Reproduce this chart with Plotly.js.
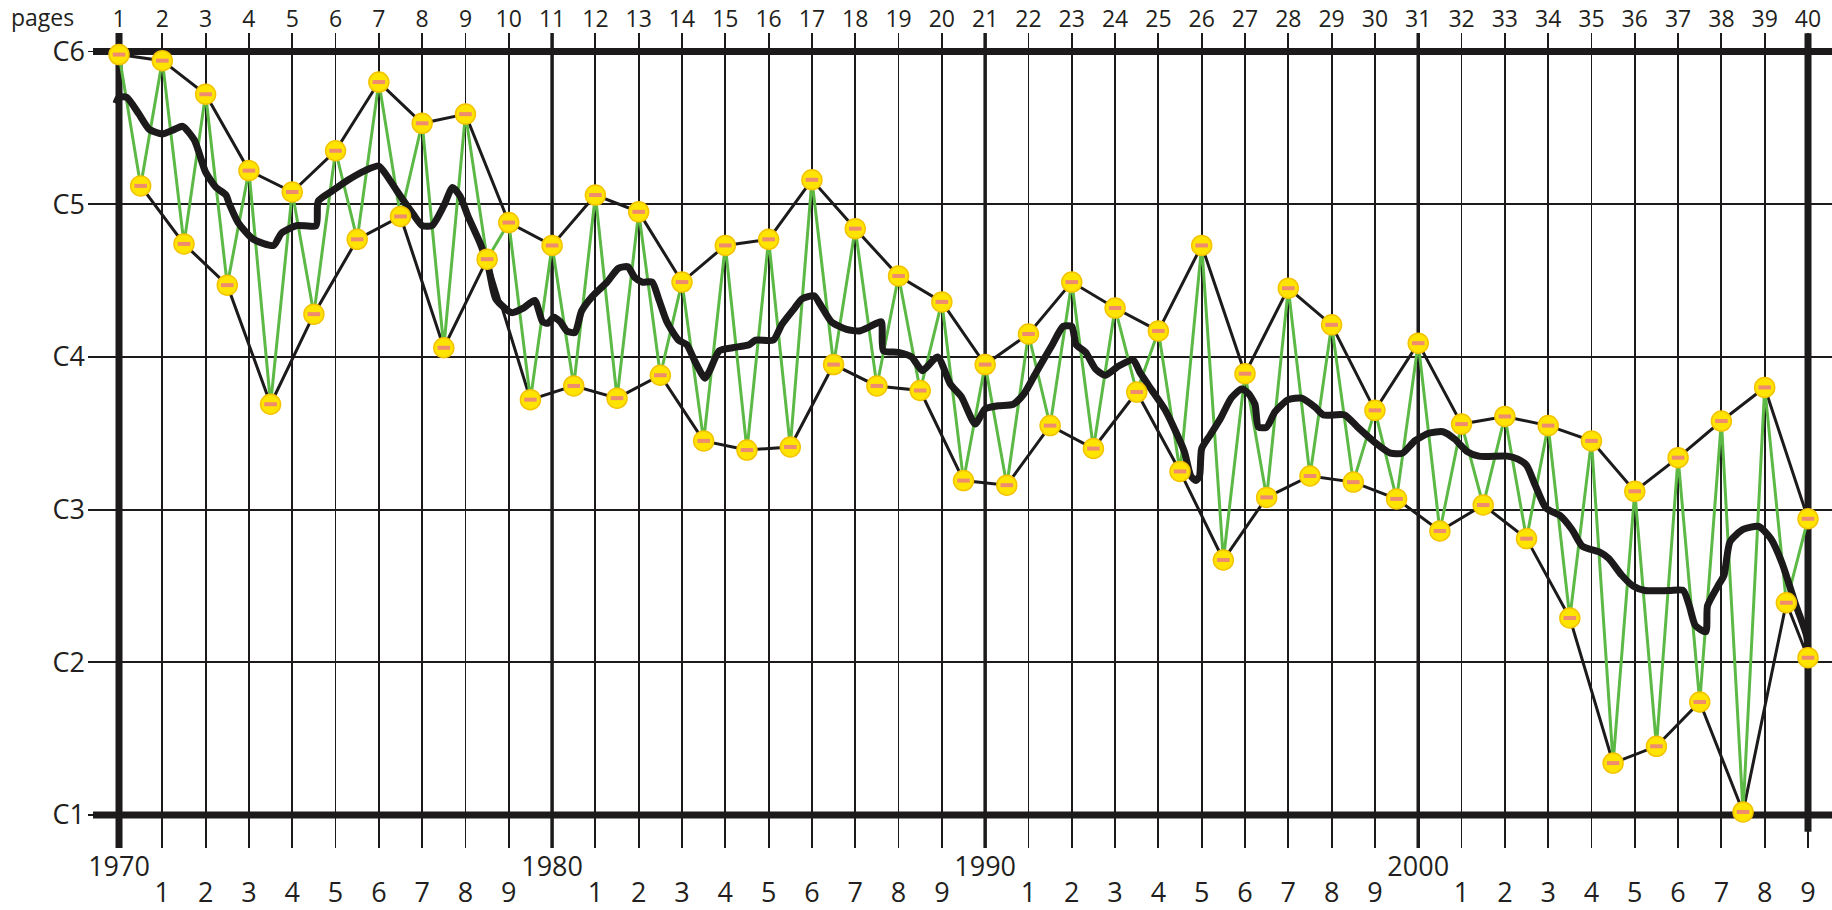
<!DOCTYPE html>
<html>
<head>
<meta charset="utf-8">
<script src="https://cdn.plot.ly/plotly-3.0.1.min.js"></script>
<style>
  html, body { margin: 0; padding: 0; background: #ffffff; }
  #chart { width: 1832px; height: 910px; }
</style>
</head>
<body>
<div id="chart"></div>
<script>
// ---- data ----
const years = [1970,1971,1972,1973,1974,1975,1976,1977,1978,1979,
               1980,1981,1982,1983,1984,1985,1986,1987,1988,1989,
               1990,1991,1992,1993,1994,1995,1996,1997,1998,1999,
               2000,2001,2002,2003,2004,2005,2006,2007,2008,2009];
const pageLabels = ['1','2','3','4','5','6','7','8','9','10',
                    '11','12','13','14','15','16','17','18','19','20',
                    '21','22','23','24','25','26','27','28','29','30',
                    '31','32','33','34','35','36','37','38','39','40'];
const yearDigitLabels = ['','1','2','3','4','5','6','7','8','9',
                         '','1','2','3','4','5','6','7','8','9',
                         '','1','2','3','4','5','6','7','8','9',
                         '','1','2','3','4','5','6','7','8','9'];
const decadeYears = [1970, 1980, 1990, 2000];
const decadeLabels = ['1970', '1980', '1990', '2000'];
const pitchVals = [1, 2, 3, 4, 5, 6];
const pitchLabels = ['C1', 'C2', 'C3', 'C4', 'C5', 'C6'];

// upper points (one per year)
const peakYears = years;
const peakValues = [5.98,5.94,5.72,5.22,5.08,5.35,5.80,5.53,5.59,4.88,
                    4.73,5.06,4.95,4.49,4.73,4.77,5.16,4.84,4.53,4.36,
                    3.95,4.15,4.49,4.32,4.17,4.73,3.89,4.45,4.21,3.65,
                    4.09,3.56,3.61,3.55,3.45,3.12,3.34,3.58,3.80,2.94];
// lower points (half years, last one at the end)
const troughYears = [1970.5,1971.5,1972.5,1973.5,1974.5,1975.5,1976.5,1977.5,1978.5,1979.5,
                     1980.5,1981.5,1982.5,1983.5,1984.5,1985.5,1986.5,1987.5,1988.5,1989.5,
                     1990.5,1991.5,1992.5,1993.5,1994.5,1995.5,1996.5,1997.5,1998.5,1999.5,
                     2000.5,2001.5,2002.5,2003.5,2004.5,2005.5,2006.5,2007.5,2008.5,2009];
const troughValues = [5.12,4.74,4.47,3.69,4.28,4.77,4.92,4.06,4.64,3.72,
                      3.81,3.73,3.88,3.45,3.39,3.41,3.95,3.81,3.78,3.19,
                      3.16,3.55,3.40,3.77,3.25,2.67,3.08,3.22,3.18,3.07,
                      2.86,3.03,2.81,2.29,1.34,1.45,1.74,1.02,2.39,2.03];

// thick smoothed line
const avgYears = [1969.93,1970.0,1970.18,1970.46,1970.7,1971.0,1971.28,1971.47,1971.74,1972.0,
  1972.24,1972.47,1972.55,1972.75,1973.1,1973.57,1973.75,1974.1,1974.55,1974.6,
  1974.94,1975.3,1975.68,1976.0,1976.2,1976.41,1976.78,1977.0,1977.23,1977.5,
  1977.7,1977.88,1978.06,1978.33,1978.52,1978.7,1979.07,1979.34,1979.6,1979.78,
  1979.9,1980.04,1980.19,1980.34,1980.53,1980.68,1980.94,1981.27,1981.53,1981.75,
  1981.91,1982.08,1982.31,1982.46,1982.65,1982.92,1983.11,1983.3,1983.53,1983.64,
  1983.86,1984.17,1984.55,1984.7,1985.11,1985.3,1985.6,1985.77,1986.05,1986.2,
  1986.45,1986.8,1987.1,1987.35,1987.6,1987.65,1988.0,1988.3,1988.55,1988.9,
  1989.2,1989.45,1989.77,1990.0,1990.3,1990.65,1990.9,1991.2,1991.55,1991.8,
  1992.0,1992.1,1992.32,1992.55,1992.77,1993.08,1993.42,1993.57,1993.83,1994.14,
  1994.37,1994.6,1994.75,1994.87,1994.95,1995.0,1995.2,1995.44,1995.68,1995.92,
  1996.08,1996.23,1996.31,1996.5,1996.69,1997.0,1997.31,1997.62,1997.81,1998.3,
  1998.6,1999.0,1999.36,1999.64,1999.92,2000.24,2000.57,2000.85,2001.13,2001.4,
  2002.06,2002.3,2002.5,2002.7,2002.95,2003.28,2003.55,2003.79,2004.2,2004.4,
  2004.7,2004.96,2005.24,2005.8,2006.12,2006.26,2006.4,2006.64,2006.68,2006.92,
  2007.06,2007.2,2007.5,2007.86,2008.14,2008.4,2008.7,2008.97,2009.0];
const avgValues = [5.66,5.70,5.70,5.59,5.49,5.46,5.49,5.51,5.42,5.21,
  5.11,5.06,5.00,4.88,4.77,4.73,4.81,4.86,4.86,5.02,
  5.09,5.16,5.22,5.25,5.18,5.09,4.94,4.86,4.86,4.99,
  5.11,5.05,4.92,4.75,4.60,4.38,4.29,4.32,4.37,4.23,
  4.22,4.26,4.23,4.17,4.16,4.30,4.40,4.49,4.58,4.59,
  4.52,4.49,4.49,4.38,4.23,4.11,4.08,3.97,3.86,3.91,
  4.04,4.06,4.08,4.11,4.11,4.21,4.32,4.38,4.40,4.34,
  4.23,4.18,4.17,4.20,4.23,4.04,4.03,4.00,3.91,4.00,
  3.82,3.74,3.56,3.66,3.68,3.69,3.76,3.91,4.08,4.20,
  4.20,4.08,4.03,3.92,3.88,3.94,3.98,3.90,3.79,3.66,
  3.53,3.38,3.22,3.19,3.22,3.40,3.49,3.60,3.73,3.79,
  3.76,3.69,3.54,3.54,3.64,3.72,3.73,3.67,3.62,3.62,
  3.54,3.44,3.37,3.37,3.45,3.50,3.51,3.46,3.38,3.35,
  3.35,3.33,3.29,3.16,3.01,2.96,2.87,2.76,2.72,2.68,
  2.57,2.50,2.47,2.47,2.47,2.37,2.24,2.20,2.37,2.50,
  2.57,2.79,2.87,2.89,2.81,2.65,2.39,2.17,2.04];

// zigzag built from peaks and troughs
const zigX = [], zigY = [];
for (let i = 0; i < peakYears.length; i++) {
  zigX.push(peakYears[i]); zigY.push(peakValues[i]);
  if (i < peakYears.length - 1) { zigX.push(troughYears[i]); zigY.push(troughValues[i]); }
}
const allX = peakYears.concat(troughYears);
const allY = peakValues.concat(troughValues);

const INK = '#1c1a1b';
const FONT = {family: '"Open Sans", "DejaVu Sans", sans-serif', size: 27, color: '#231f20'};
const TOPFONT = {family: '"Open Sans", "DejaVu Sans", sans-serif', size: 23, color: '#231f20'};

const traces = [
  {x: peakYears, y: peakValues, mode: 'lines', line: {color: INK, width: 3}, hoverinfo: 'skip', showlegend: false},
  {x: troughYears, y: troughValues, mode: 'lines', line: {color: INK, width: 3}, hoverinfo: 'skip', showlegend: false},
  {x: zigX, y: zigY, mode: 'lines', line: {color: '#5cb946', width: 3}, hoverinfo: 'skip', showlegend: false},
  {x: avgYears, y: avgValues, mode: 'lines', line: {color: INK, width: 7, shape: 'spline', smoothing: 0.6}, hoverinfo: 'skip', showlegend: false},
  {x: allX, y: allY, mode: 'markers', marker: {symbol: 'circle', size: 20, color: '#ffe400', line: {color: '#f4c300', width: 1.5}}, hoverinfo: 'skip', showlegend: false},
  {x: allX, y: allY, mode: 'markers', marker: {symbol: 'line-ew', size: 9, color: '#ef8c6e', line: {color: '#ef8c6e', width: 4}}, hoverinfo: 'skip', showlegend: false},
  // carriers for the page axis (top) and decade axis (bottom)
  {x: years, y: peakValues, xaxis: 'x2', mode: 'markers', marker: {opacity: 0}, hoverinfo: 'skip', showlegend: false},
  {x: decadeYears, y: [6, 6, 6, 6], xaxis: 'x3', mode: 'markers', marker: {opacity: 0}, hoverinfo: 'skip', showlegend: false}
];

const XR = [1969.284, 2009.554];
const YR = [0.7839, 6.1212];

const shapes = [];
[1980, 1990, 2000].forEach(function (d) {
  shapes.push({type: 'line', xref: 'x', yref: 'paper', x0: d, x1: d, y0: 0, y1: 1, line: {color: INK, width: 3.5}, layer: 'below'});
});
// thick frame
shapes.push({type: 'line', xref: 'x', yref: 'y', x0: 1969.40, x1: XR[1], y0: 6, y1: 6, line: {color: INK, width: 7}, layer: 'below'});
shapes.push({type: 'line', xref: 'x', yref: 'y', x0: 1969.40, x1: XR[1], y0: 1, y1: 1, line: {color: INK, width: 7}, layer: 'below'});
shapes.push({type: 'line', xref: 'x', yref: 'paper', x0: 1970, x1: 1970, y0: 0, y1: 1, line: {color: INK, width: 7}, layer: 'below'});
shapes.push({type: 'line', xref: 'x', yref: 'y', x0: 2009, x1: 2009, y0: 0.89, y1: 6.12, line: {color: INK, width: 7}, layer: 'below'});

const layout = {
  width: 1832, height: 910,
  margin: {l: 88, r: 0, t: 33, b: 62, pad: 0},
  paper_bgcolor: '#ffffff', plot_bgcolor: '#ffffff',
  font: FONT,
  showlegend: false,
  xaxis: {
    range: XR, tickmode: 'array', tickvals: years, ticktext: yearDigitLabels,
    showgrid: true, gridcolor: INK, gridwidth: 1.8, zeroline: false, showline: false,
    ticks: '', ticklabelstandoff: 26, tickfont: FONT, fixedrange: true
  },
  xaxis2: {
    overlaying: 'x', side: 'top', anchor: 'y', matches: 'x', range: XR,
    tickmode: 'array', tickvals: years, ticktext: pageLabels,
    showgrid: false, zeroline: false, showline: false, ticks: '', ticklabelstandoff: 0, tickfont: TOPFONT
  },
  xaxis3: {
    overlaying: 'x', side: 'bottom', anchor: 'y', matches: 'x', range: XR,
    tickmode: 'array', tickvals: decadeYears, ticktext: decadeLabels,
    showgrid: false, zeroline: false, showline: false, ticks: '', ticklabelstandoff: 0, tickfont: FONT
  },
  yaxis: {
    range: YR, tickmode: 'array', tickvals: pitchVals, ticktext: pitchLabels,
    showgrid: true, gridcolor: INK, gridwidth: 1.8, zeroline: false, showline: false,
    ticks: '', ticklabelstandoff: 2, tickfont: FONT, fixedrange: true
  },
  shapes: shapes,
  annotations: [
    {text: 'pages', xref: 'paper', yref: 'paper', x: -0.0447, y: 1, yshift: 16, xanchor: 'left', yanchor: 'middle',
     showarrow: false, font: TOPFONT, borderpad: 0}
  ]
};

Plotly.newPlot('chart', traces, layout, {displayModeBar: false, staticPlot: true});
</script>
</body>
</html>
